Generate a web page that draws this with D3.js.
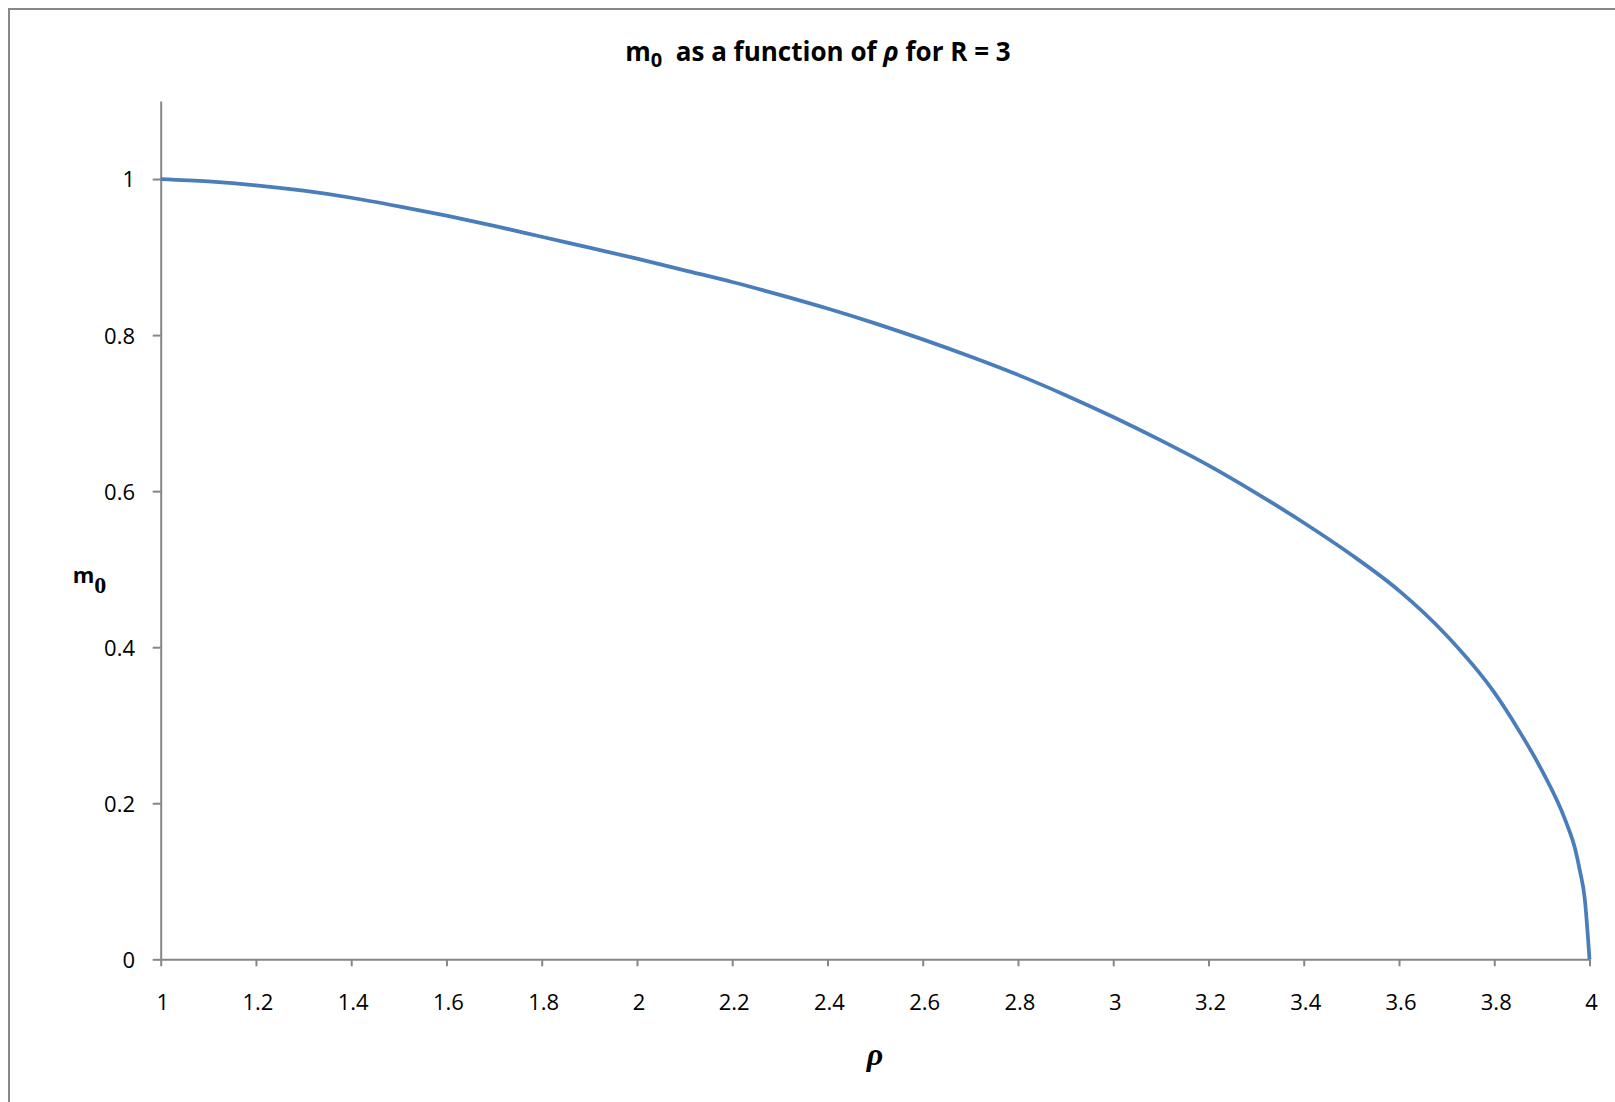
<!DOCTYPE html>
<html>
<head>
<meta charset="utf-8">
<script src="https://cdn.jsdelivr.net/npm/d3@7"></script>
<style>
  html, body { margin: 0; padding: 0; background: #fff; }
  svg { display: block; }
  .axis path, .axis line { stroke: #868686; stroke-width: 2; }
  .axis text { font-family: 'Open Sans', sans-serif; font-size: 22px; fill: #000; }
</style>
</head>
<body>
<div id="chart"></div>
<script>
(function () {
  var width = 1615;
  var height = 1102;

  // values
  var rho = [1.0, 1.1, 1.2, 1.3, 1.4, 1.5, 1.6, 1.7, 1.8, 1.9,
    2.0, 2.1, 2.2, 2.3, 2.4, 2.5, 2.6, 2.7, 2.8, 2.9,
    3.0, 3.1, 3.2, 3.3, 3.4, 3.5, 3.6, 3.7, 3.8, 3.85,
    3.9, 3.95, 3.97, 3.98, 3.99, 4.0];
  var m0 = [1.000, 0.997, 0.992, 0.985, 0.976, 0.965, 0.953, 0.940, 0.926, 0.912,
    0.898, 0.883, 0.868, 0.8515, 0.834, 0.815, 0.7945, 0.7725, 0.749, 0.723,
    0.695, 0.665, 0.633, 0.5975, 0.5595, 0.5185, 0.4725, 0.415, 0.342, 0.295,
    0.242, 0.177, 0.141, 0.113, 0.078, 0.0];

  var xTicks = [1, 1.2, 1.4, 1.6, 1.8, 2, 2.2, 2.4, 2.6, 2.8, 3, 3.2, 3.4, 3.6, 3.8, 4];
  var xTickLabels = ['1', '1.2', '1.4', '1.6', '1.8', '2', '2.2', '2.4', '2.6', '2.8',
    '3', '3.2', '3.4', '3.6', '3.8', '4'];
  var yTicks = [0, 0.2, 0.4, 0.6, 0.8, 1];
  var yTickLabels = ['0', '0.2', '0.4', '0.6', '0.8', '1'];

  var plot = { left: 160.7, right: 1589.5, top: 101, bottom: 959.3 };

  var svg = d3.select('#chart')
    .append('svg')
    .attr('width', width)
    .attr('height', height);

  // chart frame (only left and top edges fall inside the picture)
  svg.append('rect')
    .attr('x', 9)
    .attr('y', 9)
    .attr('width', width + 20)
    .attr('height', height + 20)
    .attr('fill', '#fff')
    .attr('stroke', '#878787')
    .attr('stroke-width', 2);

  var x = d3.scaleLinear().domain([1, 4]).range([plot.left, plot.right]);
  var y = d3.scaleLinear().domain([0, 1.1]).range([plot.bottom, plot.top]);

  var xAxis = svg.append('g')
    .attr('class', 'axis')
    .attr('transform', 'translate(0,' + plot.bottom + ')')
    .call(d3.axisBottom(x)
      .tickValues(xTicks)
      .tickSize(7)
      .tickSizeOuter(0)
      .tickFormat(function (d, i) { return xTickLabels[i]; }));
  xAxis.selectAll('text')
    .attr('y', 50.7)
    .attr('dy', null)
    .attr('dx', 1.5);

  var yAxis = svg.append('g')
    .attr('class', 'axis')
    .attr('transform', 'translate(' + plot.left + ',0)')
    .call(d3.axisLeft(y)
      .tickValues(yTicks)
      .tickSize(8)
      .tickSizeOuter(0)
      .tickPadding(17.7)
      .tickFormat(function (d, i) { return yTickLabels[i]; }));
  yAxis.selectAll('text').attr('dy', '0.36em');

  var line = d3.line()
    .curve(d3.curveMonotoneX)
    .x(function (d, i) { return x(rho[i]); })
    .y(function (d) { return y(d); });

  svg.append('path')
    .datum(m0)
    .attr('d', line)
    .attr('fill', 'none')
    .attr('stroke', '#4a7ebb')
    .attr('stroke-width', 3.75)
    .attr('stroke-linejoin', 'round');

  // title
  var title = svg.append('text')
    .attr('x', 818)
    .attr('y', 60.7)
    .attr('text-anchor', 'middle')
    .style('font-family', "'Open Sans', sans-serif")
    .style('font-weight', 'bold')
    .style('font-size', '26px');
  title.append('tspan').text('m');
  title.append('tspan').attr('dy', 6).style('font-size', '20px').text('0');
  title.append('tspan').attr('dy', -6).text('\u00a0 as a function of ');
  title.append('tspan').style('font-style', 'italic').text('\u03c1');
  title.append('tspan').text(' for R = 3');

  // y axis title
  var yTitle = svg.append('text')
    .attr('x', 72.7)
    .attr('y', 582.7)
    .style('font-weight', 'bold');
  yTitle.append('tspan')
    .style('font-family', "'Open Sans', sans-serif")
    .style('font-size', '22px')
    .text('m');
  yTitle.append('tspan')
    .attr('dy', 10)
    .style('font-family', "'Liberation Serif', serif")
    .style('font-size', '24px')
    .text('0');

  // x axis title
  svg.append('text')
    .attr('x', (plot.left + plot.right) / 2)
    .attr('y', 1065)
    .attr('text-anchor', 'middle')
    .style('font-family', "'Liberation Serif', serif")
    .style('font-weight', 'bold')
    .style('font-style', 'italic')
    .style('font-size', '32px')
    .text('\u03c1');
})();
</script>
</body>
</html>
